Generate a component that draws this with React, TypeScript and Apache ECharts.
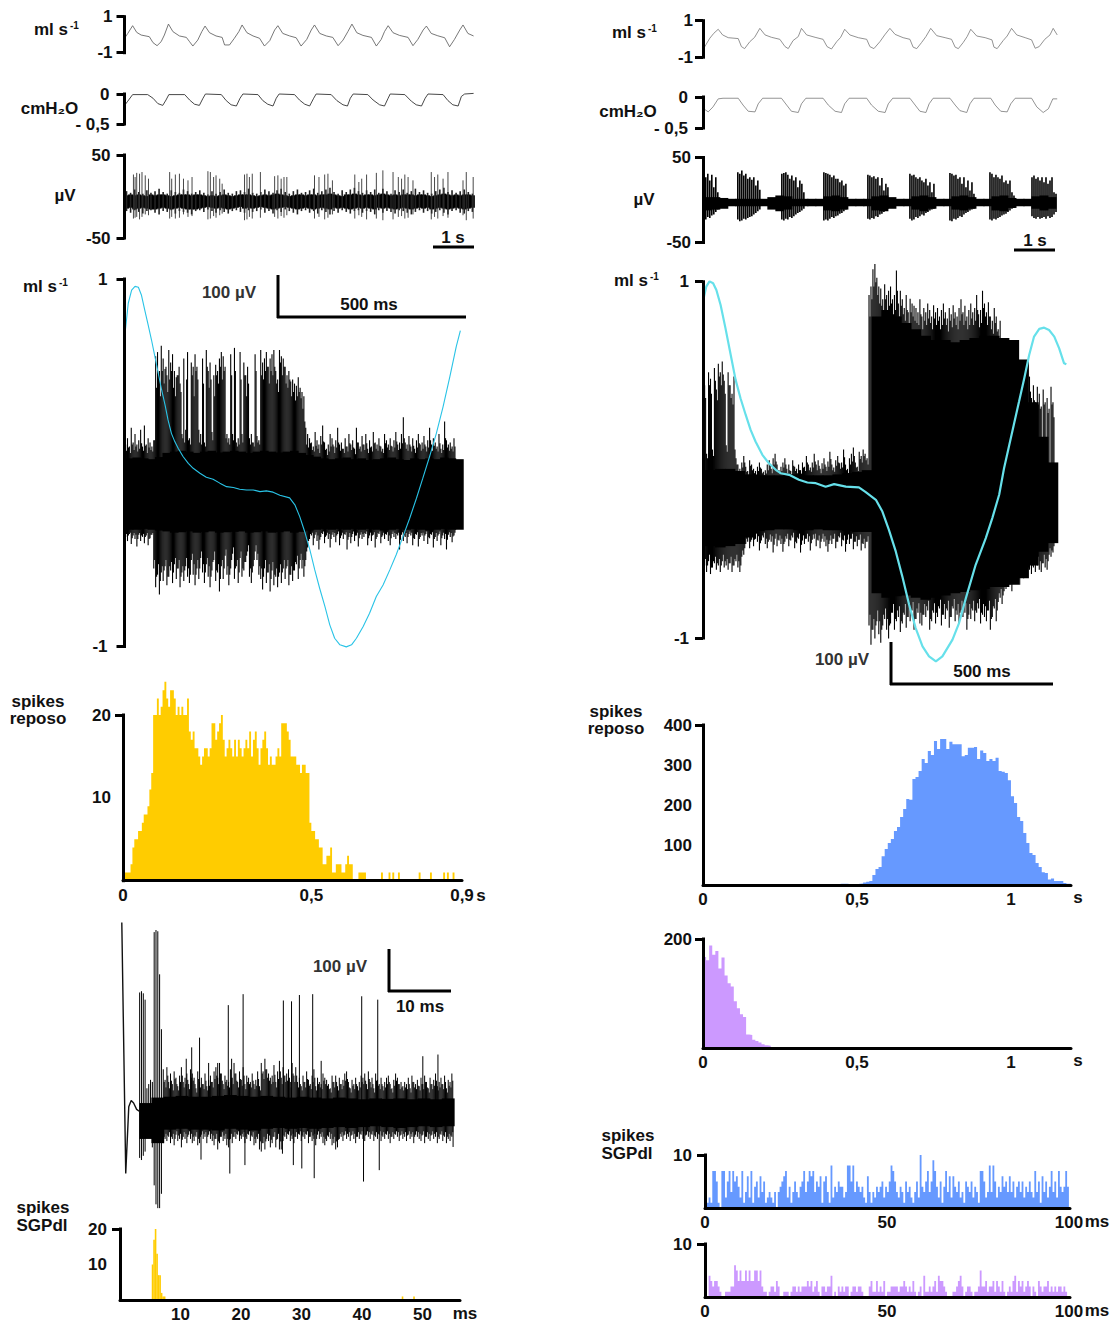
import React, { useEffect, useRef } from "react";
import * as echarts from "echarts";

// ---------- top-left traces (time in s) ----------
const flowLT = [0,.08,.2,.3,.41,.61,.7,.8,.9,.98,1.08,1.19,1.35,1.52,1.6,1.68,1.8,1.9,1.98,2.09,2.25,2.4,2.46,2.58,2.7,2.81,2.89,3.01,3.16,3.32,3.44,3.57,3.69,3.77,3.89,4.06,4.22,4.34,4.48,4.59,4.67,4.8,4.96,5.12,5.25,5.37,5.49,5.59,5.71,5.86,6.07,6.19,6.31,6.39,6.48,6.6,6.76,6.97,7.09,7.21,7.34,7.42,7.54,7.7,7.87,7.99,8.11,8.24,8.32,8.44,8.58];
const flowLV = [-.2,.07,.5,.13,-.02,-.11,-.44,-.61,-.39,-.02,.59,.17,-.07,-.15,-.39,-.63,-.3,.17,.48,.11,-.07,-.15,-.57,-.57,-.2,.17,.54,.11,-.07,-.2,-.63,-.33,.26,.5,.07,-.07,-.17,-.63,-.26,.26,.54,.07,-.07,-.15,-.61,-.3,.17,.59,.11,-.04,-.15,-.63,-.26,.17,.5,.11,-.04,-.15,-.61,-.26,.26,.48,.07,-.06,-.17,-.67,-.26,.26,.54,.07,-.07];
const presLT = [0,.08,.2,.57,.7,.82,.94,1.02,1.09,1.48,1.6,1.72,1.84,1.93,1.99,2.38,2.5,2.62,2.75,2.84,2.91,3.28,3.4,3.52,3.65,3.73,3.8,4.18,4.3,4.43,4.55,4.65,4.71,5.08,5.22,5.37,5.48,5.55,5.62,5.98,6.11,6.27,6.39,6.48,6.53,6.89,7.05,7.17,7.3,7.39,7.46,7.83,7.95,8.07,8.2,8.28,8.36,8.58];
const presLV = [-.19,-.12,-.01,-.01,-.07,-.16,-.19,-.1,-.01,-.01,-.1,-.17,-.19,-.07,0,-.01,-.11,-.18,-.2,-.07,0,-.01,-.11,-.17,-.2,-.07,0,-.01,-.1,-.17,-.2,-.07,0,-.01,-.11,-.18,-.2,-.07,0,-.01,-.1,-.18,-.2,-.07,0,-.01,-.12,-.18,-.2,-.07,0,-.01,-.11,-.18,-.2,-.04,0,.01];
const emgLTCoreHi = [8,9,8,9,8,7,9,8,9,9,8,7,8,9,9,9,8,9,9,8,7,8,7,8,9,8,7,8,9,9,9,8,7,8,9,8,9,10,9,8,7,8,9,9,8,9,9,8,9,9,10,9,8,7,9,9,10,9,8,9,9,8,9,10,9,8,9,8,9,9,9,8,9,9,8,7,8,9,10,9,8,9,8,9,9,8];
const emgLTCoreLo = [-8,-7,-9,-8,-7,-8,-9,-9,-8,-7,-8,-9,-8,-7,-8,-9,-9,-9,-8,-7,-6,-7,-8,-7,-8,-9,-8,-7,-6,-8,-7,-8,-7,-6,-7,-8,-9,-8,-7,-6,-7,-8,-9,-8,-7,-8,-9,-8,-7,-8,-9,-7,-8,-7,-8,-9,-8,-7,-8,-7,-8,-9,-7,-8,-7,-8,-9,-8,-7,-8,-9,-8,-7,-8,-7,-9,-8,-7,-8,-9,-8,-7,-8,-9,-8,-7];
const emgLTFringeUp = [13,11,15,12,10,14,11,13,16,12,10,14,12,11,15,13,10,12,14,11,9,13,10,12,15,11,10,13,14,12,16,11,10,12,15,13,11,14,16,12,10,13,15,11,12,14,16,11,13,15,17,12,10,14,12,15,17,13,11,14,12,15,11,16,13,10,14,12,15,11,13,16,12,14,11,10,13,15,17,12,14,11,13,15,12,10];
const emgLTFringeDown = [-11,-13,-10,-12,-14,-11,-10,-13,-15,-11,-12,-10,-14,-11,-12,-13,-15,-11,-10,-12,-9,-11,-13,-10,-12,-14,-11,-10,-12,-13,-10,-12,-11,-9,-13,-11,-14,-10,-12,-9,-11,-13,-15,-11,-10,-13,-11,-14,-10,-12,-15,-11,-13,-10,-12,-14,-11,-10,-13,-11,-12,-15,-10,-13,-11,-12,-14,-10,-11,-13,-15,-12,-10,-13,-11,-14,-12,-10,-13,-15,-11,-10,-13,-14,-11,-12];
const spikeLTtime = [.22,.26,.3,.37,.43,.51,.59,1.11,1.16,1.25,1.35,1.45,1.56,1.66,2.05,2.11,2.19,2.25,2.34,2.4,2.95,3.01,3.07,3.14,3.34,3.69,3.77,3.85,3.92,3.99,4.67,4.78,4.92,5,5.11,5.66,5.76,5.83,5.95,6.19,6.35,6.6,6.73,6.81,6.89,6.97,7.09,7.54,7.62,7.7,7.83,7.95,8.32,8.4,8.57];
const spikeLTup = [33,30,35,34,36,32,28,36,28,33,34,28,26,30,37,36,30,32,28,22,33,34,30,34,36,31,32,28,30,30,32,30,33,34,26,33,24,28,33,35,38,36,30,28,33,30,26,36,30,33,28,36,26,36,30];
const spikeLTdown = [-20,-19,-18,-21,-18,-15,-16,-20,-18,-20,-19,-15,-18,-17,-21,-20,-17,-19,-16,-14,-22,-21,-18,-20,-19,-18,-20,-17,-19,-16,-20,-18,-21,-19,-15,-20,-16,-18,-21,-20,-22,-21,-18,-17,-20,-19,-15,-21,-18,-20,-17,-19,-16,-22,-20];

// ---------- top-right traces (time in s) ----------
const flowRT = [0,.15,.25,.36,.47,.61,.86,.94,1.02,1.15,1.27,1.4,1.53,1.69,1.9,2.03,2.11,2.23,2.36,2.44,2.57,2.78,2.98,3.08,3.19,3.32,3.42,3.52,3.65,3.86,4.07,4.15,4.25,4.4,4.52,4.65,4.78,4.98,5.15,5.23,5.32,5.44,5.55,5.67,5.82,6.03,6.19,6.28,6.36,6.48,6.58,6.67,6.82,7.03,7.2,7.25,7.33,7.48,7.58,7.69,7.82,8.03,8.19,8.28,8.38,8.52,8.65,8.73,8.83];
const flowRV = [-.51,.04,.31,.53,.22,.07,.02,-.42,-.53,-.15,.09,.58,.22,.09,-.02,-.42,-.53,-.09,.13,.58,.22,.09,-.02,-.42,-.55,-.15,.09,.53,.22,.07,-.02,-.42,-.53,-.15,.22,.58,.25,.07,-.02,-.45,-.53,-.2,.13,.58,.18,.07,-.02,-.45,-.53,-.2,.13,.53,.16,.07,-.05,-.45,-.53,-.09,.16,.58,.22,.07,-.05,-.51,-.42,-.02,.22,.58,.22];
const presRT = [0,.11,.23,.36,.48,.86,.98,1.11,1.28,1.36,1.47,1.94,2.07,2.19,2.36,2.44,2.55,2.98,3.11,3.28,3.44,3.52,3.63,4.07,4.19,4.36,4.53,4.61,4.72,5.15,5.28,5.4,5.55,5.63,5.73,6.15,6.28,6.4,6.57,6.65,6.75,7.17,7.28,7.42,7.58,7.67,7.78,8.19,8.32,8.48,8.61,8.72,8.83];
const presRV = [-.19,-.24,-.16,-.03,-.02,-.02,-.13,-.23,-.24,-.11,-.02,-.02,-.13,-.23,-.25,-.11,-.02,-.02,-.13,-.23,-.25,-.11,-.02,-.02,-.13,-.23,-.25,-.11,-.02,-.02,-.13,-.23,-.25,-.11,-.02,-.02,-.13,-.22,-.25,-.11,-.02,-.02,-.13,-.23,-.24,-.11,-.02,-.02,-.16,-.25,-.19,-.03,-.03];
const emgRTCoreHi = [6,6,5,4,4,4,4,4,6,8,7,4,4,4,4,7,8,6,4,4,4,7,8,6,4,4,7,8,6,4,4,7,8,6,4,4,7,8,5,4,4,7,8,6];
const emgRTCoreLo = [-10,-9,-8,-5,-5,-5,-5,-5,-9,-11,-9,-5,-5,-5,-5,-10,-11,-9,-5,-5,-5,-10,-11,-8,-5,-5,-9,-11,-8,-5,-5,-9,-10,-8,-5,-5,-10,-11,-7,-5,-5,-8,-10,-8];
const emgRTup = [33,30,34,26,33,18,30,12,0,0,0,0,0,0,0,0,0,36,34,38,32,34,28,30,27,30,20,26,15,0,0,0,0,0,0,0,0,0,0,34,35,36,33,28,32,26,30,18,26,22,12,0,0,0,0,0,0,0,0,0,36,35,34,33,30,32,28,28,24,26,20,22,0,0,0,0,0,0,0,0,0,0,33,32,30,31,28,30,20,29,14,22,18,0,0,0,0,0,0,0,0,0,0,34,32,33,30,28,30,26,24,28,20,24,12,22,0,0,0,0,0,0,0,35,34,32,33,28,30,22,30,18,26,14,24,10,0,0,0,0,0,0,0,36,34,30,33,30,28,32,24,26,22,26,12,8,0,0,0,0,0,0,0,0,30,32,28,30,26,30,24,30,22,26,30,12,10];
const emgRTdown = [-20,-21,-18,-19,-16,-15,-12,-9,0,0,0,0,0,0,0,0,0,-21,-23,-22,-20,-21,-19,-18,-17,-15,-13,-11,-9,0,0,0,0,0,0,0,0,0,0,-21,-22,-20,-21,-18,-19,-17,-15,-13,-12,-10,-8,0,0,0,0,0,0,0,0,0,-22,-21,-22,-20,-18,-19,-17,-16,-14,-13,-11,-9,0,0,0,0,0,0,0,0,0,0,-20,-21,-19,-20,-17,-18,-15,-14,-12,-10,-8,0,0,0,0,0,0,0,0,0,0,-20,-22,-21,-18,-19,-17,-15,-16,-13,-12,-10,-9,-8,0,0,0,0,0,0,0,-22,-23,-20,-21,-19,-17,-18,-15,-13,-12,-10,-9,-8,0,0,0,0,0,0,0,-21,-22,-20,-21,-19,-18,-16,-15,-14,-12,-10,-8,-7,0,0,0,0,0,0,0,0,-17,-19,-20,-18,-20,-19,-18,-20,-17,-19,-18,-15,-12];

// ---------- main left (t in ms, flow in ml/s, EMG in uV) ----------
const cyanLT = [0,9,18,27,36,44,53,62,71,80,89,98,107,115,124,133,142,155,169,182,200,217,235,253,271,289,306,324,342,360,377,395,413,439,453,466,479,493,506,519,533,546,559,573,590,604,617,635,652,670,688,706,723,741,759,777,794,812,830,848,866,883,894];
const cyanLV = [.695,.868,.94,.96,.955,.913,.831,.75,.668,.578,.487,.396,.315,.233,.16,.115,.079,.034,-.003,-.03,-.057,-.079,-.09,-.111,-.13,-.135,-.144,-.148,-.148,-.157,-.153,-.16,-.177,-.191,-.229,-.293,-.374,-.474,-.583,-.683,-.782,-.882,-.955,-.991,-1.002,-.991,-.955,-.891,-.819,-.728,-.665,-.583,-.501,-.402,-.302,-.193,-.084,.034,.16,.306,.469,.632,.719];
const mainLCoreHi = [92,94,92,90,95,105,108,110,108,105,108,110,106,108,110,108,105,108,110,108,106,108,110,105,100,96,92,90,92,94,90,92,88,90,92,94,90,88,92,90,92,90,94,92,90];
const mainLCoreLo = [-78,-78,-76,-78,-80,-82,-85,-84,-82,-85,-84,-82,-85,-84,-83,-82,-85,-84,-82,-85,-84,-82,-85,-83,-80,-78,-76,-78,-76,-78,-76,-78,-76,-78,-80,-78,-76,-78,-76,-78,-80,-78,-76,-78,-78];
const mainLUp = [125,140,120,165,130,150,125,135,160,120,170,125,140,130,120,135,
335,345,300,360,330,305,290,350,320,340,300,285,290,270,
150,330,160,345,140,320,310,340,310,160,150,330,130,350,300,320,155,290,315,300,
330,345,335,310,150,140,340,150,355,130,140,345,150,320,290,310,140,150,130,340,
145,135,350,320,330,345,310,330,340,350,300,280,350,335,330,310,290,300,275,280,270,265,285,260,250,240,
165,150,140,130,120,155,135,125,145,170,130,115,125,150,140,120,135,165,125,130,
115,140,120,150,125,135,115,165,130,120,145,125,150,115,135,120,155,130,125,140,
120,115,150,135,125,140,120,135,155,125,130,150,190,130,125,145,120,140,115,135,
150,125,130,145,120,135,165,125,140,130,120,150,115,125,180,135,125,130,120,140];
const mainLUpMid = [110,118,105,125,112,120,108,115,128,110,122,105,118,112,108,135,
260,290,240,300,270,310,250,280,300,260,240,290,310,250,
140,130,280,135,125,290,240,300,280,130,125,270,120,310,260,280,135,240,290,270,
310,280,300,140,130,125,290,135,300,120,125,280,130,290,240,270,125,130,120,300,
130,125,290,280,300,310,270,300,290,310,270,250,320,290,310,270,260,280,240,250,230,240,250,235,210,180,
125,118,128,112,108,122,115,105,125,132,112,100,108,120,125,105,118,130,110,115,
105,120,108,128,112,118,102,130,115,108,125,112,128,105,118,108,128,115,110,122,
108,105,128,118,112,122,108,118,132,112,115,128,140,115,110,125,108,122,105,118,
128,110,115,125,108,118,135,110,122,115,108,128,105,112,140,118,110,115,108,120];
const mainLDown = [-95,-105,-88,-112,-92,-100,-118,-90,-105,-95,-110,-92,-115,-98,-90,
-170,-215,-185,-232,-180,-200,-165,-210,-190,-175,-205,-160,-195,-170,-215,-180,-200,-165,-190,-205,-150,-185,-210,-170,-195,-145,-180,-205,-160,-190,-215,-175,-150,-200,-180,-225,-165,-195,-140,-185,-210,-170,-135,-195,-165,-205,-145,-190,-175,-155,-130,-190,-205,-165,-130,-150,-185,-195,-220,-170,-205,-180,-225,-175,-210,-190,-215,-180,-205,-170,-195,-165,-210,-185,-200,-175,-160,-195,-150,-170,-190,-150,-120,
-100,-92,-115,-90,-105,-125,-95,-88,-110,-92,-100,-120,-90,-95,-108,-88,-115,-92,-100,-90,
-125,-95,-110,-88,-105,-92,-118,-90,-100,-95,-88,-115,-92,-105,-90,-120,-95,-88,-110,-92,
-100,-90,-105,-115,-88,-95,-100,-92,-125,-90,-105,-95,-110,-88,-92,-115,-100,-90,-118,-95,
-92,-105,-88,-112,-98,-90,-120,-95,-105,-88,-115,-92,-100,-125,-90,-95,-108,-92,-88,-110];
const mainLDownMid = [-88,-92,-85,-98,-86,-90,-100,-86,-92,-88,-95,-86,-100,-90,-86,
-150,-190,-160,-200,-165,-175,-150,-190,-165,-155,-180,-145,-170,-150,-190,-165,-175,-145,-170,-185,-135,-160,-185,-150,-170,-130,-160,-180,-145,-165,-190,-155,-130,-175,-160,-195,-150,-170,-125,-165,-185,-150,-120,-170,-150,-180,-130,-170,-155,-140,-115,-170,-180,-150,-115,-135,-165,-170,-190,-150,-180,-160,-195,-155,-185,-170,-190,-160,-180,-150,-170,-150,-185,-165,-175,-155,-140,-170,-135,-150,-165,-130,-105,
-88,-85,-98,-84,-92,-102,-86,-82,-95,-85,-88,-100,-84,-86,-92,-82,-98,-85,-88,-84,
-102,-86,-95,-82,-92,-85,-98,-84,-88,-86,-82,-98,-85,-92,-84,-100,-86,-82,-95,-85,
-88,-84,-92,-98,-82,-86,-88,-85,-102,-84,-92,-86,-95,-82,-85,-98,-88,-84,-100,-86,
-85,-92,-82,-96,-88,-84,-100,-86,-92,-82,-98,-85,-88,-102,-84,-86,-94,-85,-82,-95];

// ---------- main right ----------
const cyanRT = [0,7,17,28,38,51,66,82,97,112,128,143,158,179,199,220,235,261,291,317,343,373,399,435,475,496,527,547,567,588,608,629,649,670,690,711,731,762,782,803,833,864,884,905,920,936,951,966,982,997,1012,1028,1043,1058,1074,1089,1104,1111];
const cyanRV = [.916,.972,1.002,.991,.953,.869,.738,.589,.449,.346,.252,.168,.103,.028,-.019,-.056,-.075,-.084,-.112,-.127,-.131,-.151,-.136,-.15,-.155,-.181,-.224,-.29,-.393,-.514,-.654,-.813,-.944,-1.047,-1.103,-1.131,-1.103,-1.009,-.916,-.776,-.589,-.439,-.327,-.196,-.047,.084,.206,.327,.458,.589,.692,.735,.742,.729,.692,.626,.542,.536];
const mainRCoreHi = [72,75,75,70,62,60,60,60,62,62,60,60,60,62,65,68,72,430,445,430,415,400,385,375,375,370,375,380,385,385,380,375,330,230,150,90];
const mainRCoreLo = [-105,-108,-105,-100,-85,-70,-68,-66,-66,-68,-68,-66,-68,-68,-70,-72,-72,-215,-225,-222,-220,-225,-230,-225,-220,-215,-212,-208,-205,-200,-200,-195,-180,-150,-118,-98];
const mainRUp = [270,110,300,285,120,310,260,320,300,325,280,130,300,270,250,290,
100,85,75,90,105,80,70,95,85,75,70,80,90,75,68,72,85,95,75,100,
110,85,72,80,90,100,75,85,70,95,80,75,85,72,90,80,105,85,78,90,
110,85,95,75,88,100,80,92,115,85,78,95,105,88,90,120,85,75,100,110,
125,90,80,115,105,120,110,100,
480,500,540,552,520,500,495,470,505,480,490,500,470,480,537,460,490,470,450,480,
440,471,460,455,450,440,470,430,450,440,460,445,430,456,440,450,430,445,460,440,
425,450,435,456,440,430,450,470,440,455,430,445,460,440,450,480,435,445,490,460,
440,463,430,420,450,430,400,420,380,330,324,300,290,310,280,260,240,300,255,285,
320,250,290,240,270,230,266,250,220,260,230,240,215,266,230];
const mainRUpMid = [240,100,270,250,105,280,235,290,270,295,250,115,270,240,225,120,
85,70,65,78,90,68,62,82,72,65,62,70,78,65,60,64,72,82,65,85,
92,72,64,70,78,85,65,72,62,82,70,65,72,64,78,70,90,72,68,78,
92,72,82,65,75,85,70,80,98,72,68,82,90,75,78,102,72,65,85,92,
105,78,70,98,90,105,95,85,
430,470,500,510,480,460,455,440,470,445,455,460,435,445,490,430,455,435,420,445,
410,440,430,420,415,410,435,400,420,410,425,415,400,425,410,420,400,410,425,410,
395,420,405,425,410,400,420,435,410,420,400,410,425,410,420,445,405,415,450,430,
410,430,400,390,415,395,360,380,340,290,280,260,240,270,150,230,210,120,225,250,
110,220,255,100,235,95,225,215,85,225,90,205,80,225,195];
const mainRDown = [-150,-165,-140,-170,-155,-145,-160,-150,-165,-140,-155,-150,-160,-145,-165,-150,-140,-155,-165,-130,-125,
-100,-95,-110,-90,-105,-88,-95,-115,-92,-85,-100,-110,-90,-95,-120,-88,-105,-92,-100,-118,
-95,-88,-105,-92,-85,-110,-98,-88,-120,-92,-100,-88,-95,-115,-90,-88,-105,-92,-110,-88,
-95,-105,-118,-92,-100,-88,-110,-95,-85,-105,-92,-118,-90,-100,-88,-112,-95,-105,-90,-115,
-100,-110,-95,
-290,-335,-300,-320,-280,-310,-330,-290,-275,-300,-320,-285,-260,-300,-280,-270,-305,-285,-265,-295,
-270,-280,-255,-300,-275,-260,-285,-290,-265,-270,-255,-300,-280,-260,-285,-270,-250,-290,-265,-275,
-255,-295,-270,-250,-280,-265,-285,-255,-270,-260,-300,-265,-275,-255,-280,-260,-250,-285,-265,-270,
-280,-255,-300,-270,-250,-280,-235,-225,-240,-210,-205,-200,-195,-210,-185,-190,-175,-195,-170,-180,
-165,-175,-160,-170,-155,-165,-150,-160,-165,-145,-155,-160,-125,-130,-120];
const mainRDownMid = [-135,-150,-125,-155,-140,-130,-145,-135,-150,-125,-140,-135,-145,-130,-150,-135,-125,-140,-150,-115,-110,
-88,-82,-95,-78,-90,-76,-82,-98,-80,-74,-88,-95,-78,-82,-102,-76,-90,-80,-88,-100,
-82,-76,-90,-80,-74,-95,-85,-76,-102,-80,-88,-76,-82,-98,-78,-76,-90,-80,-95,-76,
-82,-90,-100,-80,-88,-76,-95,-82,-74,-90,-80,-100,-78,-88,-76,-95,-82,-90,-78,-98,
-88,-95,-82,
-265,-300,-275,-290,-255,-280,-300,-265,-250,-275,-290,-260,-240,-275,-255,-245,-280,-260,-240,-270,
-245,-255,-235,-275,-250,-238,-260,-265,-240,-245,-232,-275,-255,-238,-260,-245,-230,-265,-240,-250,
-232,-270,-245,-228,-255,-240,-260,-232,-245,-238,-275,-240,-250,-232,-255,-238,-228,-260,-240,-245,
-255,-232,-275,-245,-228,-255,-215,-205,-220,-190,-185,-180,-175,-190,-165,-170,-155,-175,-150,-160,
-145,-155,-140,-150,-135,-145,-130,-140,-145,-125,-135,-140,-110,-115,-105];

// ---------- bottom-left trace (ms, uV) ----------
const artifactT = [.05,.7,1.2,1.6,2,2.5,3];
const artifactV = [453,-142,16,31,25,10,5];
const botLCoreHi = [0,0,25,38,40,42,40,40,42,44,42,40,42,40,38,40,38,36,38,36,34,36,35,36,34,36,34,36];
const botLCoreLo = [0,0,-60,-70,-38,-36,-38,-38,-40,-36,-38,-40,-36,-34,-36,-34,-36,-34,-32,-34,-32,-30,-32,-34,-32,-30,-32,-30];
const botLUp = [0,0,0,0,0,0,0,0,0,0,287,290,285,270,60,70,80,75,430,435,432,330,200,
105,80,110,75,95,70,100,85,65,90,110,75,85,95,70,105,95,85,60,100,
75,85,70,95,65,80,90,75,100,110,85,120,95,70,90,80,75,105,85,120,
95,75,100,80,110,70,90,85,75,95,70,80,100,65,120,100,130,105,95,85,
90,115,75,100,125,85,110,90,95,105,75,120,90,110,75,85,65,90,75,100,
80,70,90,105,65,85,75,70,95,85,80,70,60,90,75,90,65,85,70,80,
95,100,75,60,80,70,85,65,75,90,85,95,70,100,75,85,60,95,80,70,
85,65,75,85,90,70,60,80,95,85,70,75,65,75,70,85,60,90,75,70,
80,65,85,70,90,75,60,85,70,80,95,65,75,85,70,90,60,80,75,95];
const botLUpMid = [75,62,90,60,78,55,82,70,55,75,90,62,70,80,58,85,78,70,50,82,
62,70,58,78,55,66,75,62,82,90,70,95,78,58,75,66,62,85,70,95,
78,62,82,66,90,58,75,70,62,78,58,66,82,55,95,82,105,85,78,70,
75,92,62,82,100,70,90,75,78,85,62,95,75,90,62,70,55,75,62,82,
66,58,75,85,55,70,62,58,78,70,66,58,50,75,62,75,55,70,58,66,
78,82,62,50,66,58,70,55,62,75,70,78,58,82,62,70,50,78,66,58,
70,55,62,70,75,58,50,66,78,70,58,62,55,62,58,70,50,75,62,58,
66,55,70,58,75,62,50,70,58,66,78,55,62,70,58,75,50,66,62,78];
const botLDown = [0,0,0,0,0,0,0,0,0,0,-105,-110,-100,-90,-50,-55,-45,-80,-170,-215,-224,-224,-190,
-70,-60,-65,-55,-70,-60,-75,-50,-65,-60,-80,-55,-60,-70,-50,-60,-70,-65,-55,-75,
-70,-50,-60,-55,-70,-50,-60,-65,-75,-60,-85,-70,-55,-65,-60,-75,-80,-60,-70,-55,
-60,-50,-65,-60,-55,-70,-60,-50,-65,-55,-75,-70,-60,-85,-90,-70,-85,-60,-65,-80,
-70,-55,-80,-60,-85,-85,-65,-55,-60,-50,-65,-60,-70,-55,-60,-50,-65,-55,-60,-50,
-70,-55,-65,-60,-75,-50,-60,-55,-70,-75,-65,-55,-60,-75,-70,-85,-80,-60,-55,-65,
-50,-60,-55,-65,-50,-60,-70,-55,-60,-50,-60,-65,-50,-55,-60,-50,-65,-55,-60,-50,
-65,-55,-60,-50,-60,-70,-55,-60,-50,-55,-65,-50,-60,-55,-65,-50,-60,-55,-70,-50,
-55,-60,-65,-50,-70,-55,-60,-65,-50,-60,-55,-70,-60,-50,-65,-55,-70,-60,-65,-55];
const botLDownMid = [-55,-48,-52,-44,-55,-48,-60,-42,-52,-48,-62,-44,-48,-55,-42,-48,-55,-52,-44,-60,
-55,-42,-48,-44,-55,-42,-48,-52,-60,-48,-66,-55,-44,-52,-48,-60,-62,-48,-55,-44,
-48,-42,-52,-48,-44,-55,-48,-42,-52,-44,-60,-55,-48,-66,-70,-55,-66,-48,-52,-62,
-55,-44,-62,-48,-66,-66,-52,-44,-48,-42,-52,-48,-55,-44,-48,-42,-52,-44,-48,-42,
-55,-44,-52,-48,-60,-42,-48,-44,-55,-60,-52,-44,-48,-60,-55,-66,-62,-48,-44,-52,
-42,-48,-44,-52,-42,-48,-55,-44,-48,-42,-48,-52,-42,-44,-48,-42,-52,-44,-48,-42,
-52,-44,-48,-42,-48,-55,-44,-48,-42,-44,-52,-42,-48,-44,-52,-42,-48,-44,-55,-42,
-44,-48,-52,-42,-55,-44,-48,-52,-42,-48,-44,-55,-48,-42,-52,-44,-55,-48,-52,-44];
const botSharpUpT = [10.7,11.6,12.9,14.4,15.9,17.65,18.2,20.1,26.75,28.1,29.4,31.6,33,39.7,42.35,49.8,52.3];
const botSharpUpV = [130,157,180,120,120,257,130,283,268,266,281,283,125,278,270,136,140];
const botSharpDownT = [13.14,17.9,20.4,26.6,28.4,29.8,31.85,40,42.6,54.8];
const botSharpDownV = [-109,-142,-122,-95,-122,-130,-153,-161,-134,-79];

// ---------- histograms ----------
const yellowMain = [1,1,1,1,2,4,5,5,6,6,7,8,8,9,11,13,20,20,22,20,21,23,24,22,21,23,23,22,20,21,20,21,20,20,22,18,17,18,16,16,15,14,15,16,16,15,16,19,19,17,18,19,20,17,15,16,17,16,15,17,15,17,16,15,16,17,16,18,15,17,18,16,14,16,17,18,16,14,15,14,14,15,16,15,19,19,19,18,17,15,15,15,14,14,13,14,14,13,13,7,6,6,5,5,4,4,2,2,3,3,4,1,1,2,2,2,1,1,2,3,2,2,0,0,0,1,1,1,1,0,0,0,0,0,0,0,0,1,0,0,0,1,0,1,0,0,1,0,0,0,0,0,0,0,0,0,0,1,0,0,0,0,0,1,0,0,0,0,0,0,1,0,1,0,0,1,0,0];
const blueMain = [0,0,0,0,0,0,0,0,0,0,0,0,0,0,0,0,0,0,0,0,0,0,0,0,0,0,0,0,0,0,0,0,0,0,0,0,0,0,0,0,0,2,2,2,3,3,3,2,2,2,3,4,6,8,10,25,40,45,72,90,105,115,135,145,170,190,215,213,265,270,285,315,305,335,325,360,340,365,365,340,358,352,352,352,322,325,343,343,345,315,336,330,310,315,310,318,285,283,280,262,222,205,170,160,130,105,80,75,55,45,32,30,14,16,10,10,10,5,3,3];
const purpleMain = [167,161,188,171,178,146,166,133,119,113,86,73,62,57,25,24,15,13,10,7,5,4,2,2,1,1,0,1,0,0,0,0,0,0,0,0,0,0,0,0,0,0,0,0,0,0,0,0,0,0,0,0,0,0,0,0,0,0,0,0,0,0,0,0,0,0,0,0,0,0,0,0,0,0,0,0,0,0,0,0,0,0,0,0,0,0,0,0,0,0,0,0,0,0,0,0,0,0,0,0,0,0,0,0,0,0,0,0,0,0,0,0,0,0,0,0,0,0,0,0];
const blueSgp = [0,1,2,1,7,7,5,1,0,7,7,2,5,7,3,7,5,6,4,2,7,1,3,6,2,7,1,4,5,2,6,3,5,1,2,3,2,1,3,0,3,4,5,6,7,2,4,1,3,5,3,2,4,5,7,3,5,7,6,7,3,5,4,6,1,5,6,3,1,8,2,4,3,5,4,4,2,3,8,8,5,8,3,5,4,3,4,2,1,6,3,1,3,2,4,3,4,5,2,4,3,5,8,7,5,3,2,4,3,1,5,3,4,2,1,3,5,2,10,4,3,5,7,3,5,9,7,4,2,5,1,4,7,3,6,2,6,4,3,5,2,3,1,5,4,3,5,2,4,3,1,7,7,5,2,3,8,3,8,5,2,4,3,6,4,5,3,6,3,5,2,4,5,3,5,2,4,3,5,3,2,7,3,5,1,6,3,5,2,4,7,3,5,2,7,4,3,4,7,4];
const purpleSgp = [0,0,4,3,2,3,3,2,1,0,0,1,1,1,2,2,6,5,3,5,3,3,5,3,5,3,3,5,5,3,5,2,1,1,0,1,2,2,1,3,2,0,0,1,1,1,0,1,2,2,1,2,1,2,2,2,3,2,3,1,2,3,1,0,2,2,1,2,2,4,0,1,0,2,1,2,1,2,2,0,1,2,2,1,2,2,1,0,0,0,2,3,1,1,3,1,2,1,3,0,1,1,2,2,2,2,1,2,2,3,2,1,2,1,3,1,0,1,2,0,4,1,1,2,1,2,3,1,4,3,3,2,1,0,0,0,1,1,2,3,4,2,0,1,2,2,1,0,1,1,2,5,2,2,3,1,2,2,3,1,3,2,1,3,1,0,1,2,1,3,4,1,3,2,3,1,2,3,2,0,2,1,0,3,2,1,2,2,3,1,2,1,2,1,2,2,1,2,1,0];
const yellowSgpTime = [5.38,5.63,5.88,6.13,6.38,6.63,6.88,7.13,7.38,46.7,48.6];
const yellowSgpCount = [10,17,20,13,7,7,2,1,1,1,1];

// ---------- tick labels ----------
const ticksMainLeft = [0, 0.5, 0.9];
const ticksMainRight = [0, 0.5, 1];
const ticksSgpLeft = [10, 20, 30, 40, 50];
const ticksSgpRight = [0, 50, 100];

const FONT = '"Liberation Sans", Arial, sans-serif';
const FS = 17;

function buildOption() {
  const grid: any[] = [], xAxis: any[] = [], yAxis: any[] = [], series: any[] = [], graphic: any[] = [];

  const text = (t: string, x: number, y: number, align = "center", size = FS, fill = "#111") =>
    graphic.push({ type: "text", x, y, silent: true, style: { text: t, fontFamily: FONT, fontWeight: "bold", fontSize: size, fill, textAlign: align, textVerticalAlign: "middle" } });
  const line = (x1: number, y1: number, x2: number, y2: number) =>
    graphic.push({ type: "line", silent: true, shape: { x1, y1, x2, y2 }, style: { stroke: "#000", lineWidth: 3 } });

  const comma = (v: any) => (Number(v) === -0.5 ? "- 0,5" : String(v).replace(".", ","));
  const labelStyle = { fontFamily: FONT, fontWeight: "bold", fontSize: FS, color: "#111" };

  function addGrid(left: number, top: number, width: number, height: number, xMin: number, xMax: number, xTicks?: number[]) {
    const idx = grid.length;
    grid.push({ left, top, width, height, containLabel: false });
    xAxis.push({
      gridIndex: idx, type: "value", min: xMin, max: xMax, show: !!xTicks, z: 6, splitLine: { show: false },
      axisLine: { show: true, onZero: false, lineStyle: { color: "#000", width: 3 } },
      axisTick: { show: false },
      axisLabel: xTicks ? { ...labelStyle, margin: 6, customValues: xTicks, formatter: comma } : { show: false },
    });
    return idx;
  }
  function addY(g: number, min: number, max: number, tickVals: number[] | null, labelVals: number[] = [], margin = 15) {
    const idx = yAxis.length;
    if (!tickVals) {
      yAxis.push({ gridIndex: g, type: "value", min, max, show: false, splitLine: { show: false } });
      return idx;
    }
    yAxis.push({
      gridIndex: g, type: "value", min, max, z: 6, splitLine: { show: false },
      axisLine: { show: true, onZero: false, lineStyle: { color: "#000", width: 3, cap: "square" } },
      axisTick: { show: true, length: 8, customValues: tickVals, lineStyle: { color: "#000", width: 3 } },
      axisLabel: { ...labelStyle, margin, customValues: labelVals, formatter: comma },
    });
    return idx;
  }
  const lineS = (g: number, y: number, ts: number[], vs: number[], color: string, width: number, z = 3) =>
    series.push({
      type: "line", xAxisIndex: g, yAxisIndex: y, data: ts.map((t, i) => [t, vs[i]]), symbol: "none", silent: true, clip: false, z,
      lineStyle: { color, width },
    });
  const sticks = (g: number, y: number, rows: number[][], width: number, color = "#000", z = 2) =>
    series.push({
      type: "custom", xAxisIndex: g, yAxisIndex: y, coordinateSystem: "cartesian2d", data: rows, clip: false, silent: true, z,
      encode: { x: 0, y: [1, 2] },
      renderItem: (_: any, api: any) => {
        const a = api.coord([api.value(0), api.value(1)]);
        const b = api.coord([api.value(0), api.value(2)]);
        return { type: "line", shape: { x1: a[0], y1: a[1], x2: b[0], y2: b[1] }, style: { stroke: color, lineWidth: width } };
      },
    });
  const gridRows = (step: number, hi: number[], lo: number[], t0 = 0) => hi.map((h, i) => [t0 + i * step, h, lo[i] ?? 0]);
  // histogram drawn as a step outline with a filled area so neighbouring bins have no seams
  const hist = (g: number, y: number, vals: number[], bin: number, color: string) => {
    const data = vals.map((v, i) => [i * bin, v]);
    data.push([vals.length * bin, 0]);
    series.push({
      type: "line", xAxisIndex: g, yAxisIndex: y, data, step: "end", symbol: "none", silent: true, clip: false, z: 2,
      lineStyle: { width: 0, color }, areaStyle: { color, opacity: 1 },
    });
  };
  const bars = (g: number, y: number, rows: number[][], width: number, color: string) =>
    series.push({ type: "bar", xAxisIndex: g, yAxisIndex: y, data: rows, barWidth: width, clip: false, silent: true, itemStyle: { color }, z: 2 });
  const unit = (x: number, y: number) => { text("ml s", x, y, "left"); text("-1", x + 36, y - 4, "left", 10); };

  // --- top left ---
  let g = addGrid(124.5, 16.7, 349.5, 36, 0, 8.59);
  let y = addY(g, -1, 1, [-1, 1], [-1, 1], 12);
  lineS(g, y, flowLT, flowLV, "#555", 0.8);
  g = addGrid(124.5, 94, 349.5, 30, 0, 8.59);
  y = addY(g, -0.5, 0, [-0.5, 0], [-0.5, 0], 15);
  lineS(g, y, presLT, presLV, "#333", 0.9);
  g = addGrid(124.5, 155, 349.5, 83, 0, 8.59);
  y = addY(g, -50, 50, [-50, 50], [-50, 50], 14);
  let yh = addY(g, -43.4, 56.5, null);
  sticks(g, yh, gridRows(0.1, emgLTCoreHi, emgLTCoreLo, 0.05), 5);
  sticks(g, yh, gridRows(0.1, emgLTFringeUp, emgLTFringeDown, 0.05), 1.6, "#222");
  sticks(g, yh, spikeLTtime.map((t, i) => [t, spikeLTup[i], spikeLTdown[i]]), 0.9, "#333");
  line(433, 247, 474, 247);
  unit(34, 29);
  text("cmH₂O", 49.5, 108);
  text("µV", 65, 195);
  text("1 s", 453, 237);

  // --- top right ---
  g = addGrid(703, 20.7, 355, 36.5, -0.02, 8.85);
  y = addY(g, -1, 1, [-1, 1], [-1, 1], 10);
  lineS(g, y, flowRT, flowRV, "#777", 0.8);
  g = addGrid(703, 97, 355, 31, -0.02, 8.85);
  y = addY(g, -0.5, 0, [-0.5, 0], [-0.5, 0], 15);
  lineS(g, y, presRT, presRV, "#777", 0.8);
  g = addGrid(703, 157.5, 355, 85, -0.02, 8.85);
  y = addY(g, -50, 50, [-50, 50], [-50, 50], 12);
  yh = addY(g, -48.6, 53.7, null);
  sticks(g, yh, gridRows(0.2, emgRTCoreHi, emgRTCoreLo, 0.1), 9);
  sticks(g, yh, gridRows(0.05, emgRTup, emgRTdown), 1.6);
  line(1014, 250, 1055, 250);
  unit(612, 32);
  text("cmH₂O", 628, 111);
  text("µV", 644, 199);
  text("1 s", 1035, 240);

  // --- main left ---
  g = addGrid(124.5, 279, 340, 367.5, -1, 905);
  y = addY(g, -1, 1, [-1, 1], [-1, 1], 17);
  let y2 = addY(g, -356, 519, null);
  sticks(g, y2, gridRows(20, mainLCoreHi, mainLCoreLo, 11.5), 8.6);
  sticks(g, y2, gridRows(5, mainLUp, mainLDown, 2), 1.1);
  sticks(g, y2, gridRows(5, mainLUpMid, mainLDownMid, 4.5), 1.1);
  lineS(g, y, cyanLT, cyanLV, "#29c3e6", 1.1, 5);
  line(278, 275, 278, 318);
  line(277, 317, 466, 317);
  unit(23, 286);
  text("100 µV", 229, 292, "center", FS, "#333");
  text("500 ms", 369, 304);

  // --- main right ---
  g = addGrid(703, 281.7, 364, 356.3, -3, 1113);
  y = addY(g, -1, 1, [-1, 1], [-1, 1], 14);
  y2 = addY(g, -319, 511, null);
  sticks(g, y2, gridRows(30, mainRCoreHi, mainRCoreLo, 20), 10.6);
  sticks(g, y2, gridRows(6, mainRUp, mainRDown, 2), 1.1);
  sticks(g, y2, gridRows(6, mainRUpMid, mainRDownMid, 5), 1.1);
  lineS(g, y, cyanRT, cyanRV, "#66e0ea", 2.2, 5);
  line(891, 642, 891, 685);
  line(890, 684, 1053, 684);
  unit(614, 280);
  text("100 µV", 842, 659, "center", FS, "#333");
  text("500 ms", 982, 671);

  // --- spike histograms (left) ---
  g = addGrid(123, 715, 339, 165.7, 0, 0.9, ticksMainLeft);
  y = addY(g, 0, 20, [20], [10, 20], 12);
  hist(g, y, yellowMain, 0.005, "#ffcc00");
  text("spikes", 38, 701);
  text("reposo", 38, 718);
  text("s", 481, 895);

  // --- spike histograms (right) ---
  g = addGrid(703, 725, 368, 160, 0, 1.195, ticksMainRight);
  y = addY(g, 0, 400, [400], [100, 200, 300, 400], 11);
  hist(g, y, blueMain, 0.01, "#6699ff");
  text("s", 1078, 897);
  text("spikes", 616, 711);
  text("reposo", 616, 728);
  g = addGrid(703, 939, 368, 109, 0, 1.195, ticksMainRight);
  y = addY(g, 0, 200, [200], [200], 11);
  hist(g, y, purpleMain, 0.01, "#cc99ff");
  text("s", 1078, 1060);

  // --- bottom left ---
  g = addGrid(121.5, 949, 334, 325, 0, 55.2);
  y2 = addY(g, -380, 390, null);
  sticks(g, y2, gridRows(2, botLCoreHi, botLCoreLo), 12.8);
  sticks(g, y2, gridRows(0.3, botLUp, botLDown), 1);
  sticks(g, y2, gridRows(0.3, botLUpMid, botLDownMid, 7.05), 1);
  sticks(g, y2, botSharpUpT.map((t, i) => [t, botSharpUpV[i], 0]), 1);
  sticks(g, y2, botSharpDownT.map((t, i) => [t, 0, botSharpDownV[i]]), 1);
  lineS(g, y2, artifactT, artifactV, "#111", 1.4);
  g = addGrid(120, 1229, 340, 71, 0, 56.2, ticksSgpLeft);
  y = addY(g, 0, 20, [20], [10, 20], 13);
  bars(g, y, yellowSgpTime.map((t, i) => [t, yellowSgpCount[i]]), 1.6, "#ffcc00");
  line(389, 949, 389, 992);
  line(388, 991, 451, 991);
  text("100 µV", 340, 966, "center", FS, "#333");
  text("10 ms", 420, 1006);
  text("spikes", 43, 1207);
  text("SGPdl", 42, 1225);
  text("ms", 465, 1313);

  // --- bottom right ---
  g = addGrid(705, 1155, 365, 53, 0, 100.3, ticksSgpRight);
  y = addY(g, 0, 10, [10], [10], 13);
  hist(g, y, blueSgp, 0.5, "#6699ff");
  text("spikes", 628, 1135);
  text("SGPdl", 627, 1153);
  text("ms", 1097, 1221);
  g = addGrid(705, 1244, 365, 53, 0, 100.3, ticksSgpRight);
  y = addY(g, 0, 10, [10], [10], 13);
  hist(g, y, purpleSgp, 0.5, "#cc99ff");
  text("ms", 1097, 1310);

  return { animation: false, backgroundColor: "#fff", grid, xAxis, yAxis, series, graphic };
}

export default function App() {
  const ref = useRef<HTMLDivElement>(null);
  useEffect(() => {
    document.body.style.margin = "0";
    const chart = echarts.init(ref.current!, undefined, { renderer: "svg" });
    chart.setOption(buildOption() as any);
    return () => chart.dispose();
  }, []);
  return <div ref={ref} style={{ width: 1114, height: 1323 }} />;
}
